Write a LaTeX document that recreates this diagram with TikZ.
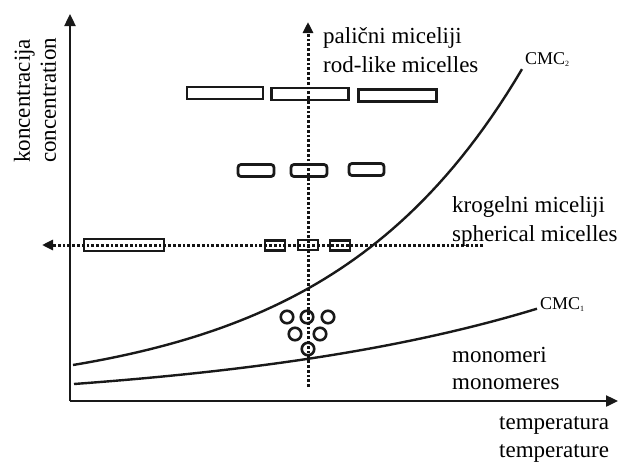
\documentclass[tikz,border=0pt]{standalone}
\usepackage{fontspec}
\setmainfont{Liberation Serif}
\usetikzlibrary{arrows.meta}
\begin{document}
\begin{tikzpicture}[x=1pt,y=-1pt,
  axisline/.style={line width=2.4pt, draw=black!90, -{Triangle[length=12pt,width=11pt]}},
  dotline/.style={line width=3pt, draw=black!92, dash pattern=on 2.8pt off 2pt, -{Triangle[length=11pt,width=10pt]}},
  curveline/.style={line width=2.4pt, draw=black!90},
  rodbox/.style={draw=black!90, line width=2.8pt, inner sep=0pt, minimum height=12pt},
  midbox/.style={rodbox, rounded corners=3pt},
  smallbox/.style={rodbox, minimum height=10pt},
  mono/.style={draw=black!90, line width=2.6pt, circle, inner sep=0pt, minimum size=12.5pt},
  lab/.style={anchor=base west, inner sep=0pt, font=\fontsize{23}{27}\selectfont},
  cmc/.style={anchor=base west, inner sep=0pt, font=\fontsize{18}{20}\selectfont}
]
\useasboundingbox (0,0) rectangle (619,461);
% axes
\coordinate (O) at (70,401);
\coordinate (ytop) at (70,14);
\coordinate (xend) at (618,401);
\draw[axisline] (O) -- (ytop);
\draw[axisline] (O) -- (xend);
% curves
\draw[curveline] plot[domain=73:522, samples=60] (\x, {401 - (3.6 + 32.4*exp(0.00515*(\x-73)))});
\draw[curveline] plot[domain=74:537, samples=60] (\x, {401 - (-7 + 24*exp(0.003067*(\x-74)))});
% rod-like micelles
\node[rodbox, minimum width=76pt] (r1) at (225,93) {};
\node[rodbox, minimum width=77pt] (r2) at (310,94) {};
\node[rodbox, minimum width=78pt] (r3) at (397.5,95.5) {};
% middle rounded micelles
\node[midbox, minimum width=36pt] (m1) at (256,170.5) {};
\node[midbox, minimum width=36pt] (m2) at (309,170.5) {};
\node[midbox, minimum width=35pt] (m3) at (366.5,169.5) {};
% spherical row
\node[rodbox, minimum width=80pt] (s1) at (124,245) {};
\node[smallbox, minimum width=20pt] (s2) at (275,245.5) {};
\node[smallbox, minimum width=20pt] (s3) at (308,245) {};
\node[smallbox, minimum width=20pt] (s4) at (340,245.5) {};
% monomers
\node[mono] (c1) at (287,317) {};
\node[mono] (c2) at (307,317) {};
\node[mono] (c3) at (328,317) {};
\node[mono] (c4) at (295,334) {};
\node[mono] (c5) at (320,334) {};
\node[mono] (c6) at (308,349) {};
% dotted lines
\coordinate (vb) at (308,387);
\coordinate (vt) at (308,22);
\coordinate (hr) at (483,245);
\coordinate (hl) at (42,245);
\draw[dotline] (vb) -- (vt);
\draw[dotline] (hr) -- (hl);
% labels
\node[lab, rotate=90] (ylab1) at (30,163) {koncentracija};
\node[lab, rotate=90] (ylab2) at (56,163) {concentration};
\node[lab] (t1) at (323,43) {palični miceliji};
\node[lab] (t2) at (323,72) {rod-like micelles};
\node[lab] (t3) at (452,212) {krogelni miceliji};
\node[lab] (t4) at (452,241) {spherical micelles};
\node[lab] (t5) at (452,362) {monomeri};
\node[lab] (t6) at (452,389) {monomeres};
\node[lab] (t7) at (499,429) {temperatura};
\node[lab] (t8) at (499,457) {temperature};
\node[cmc] (k2) at (525,64) {CMC\raisebox{-2.5pt}{\fontsize{8}{8}\selectfont 2}};
\node[cmc] (k1) at (540,309) {CMC\raisebox{-2.5pt}{\fontsize{8}{8}\selectfont 1}};
\end{tikzpicture}
\end{document}
